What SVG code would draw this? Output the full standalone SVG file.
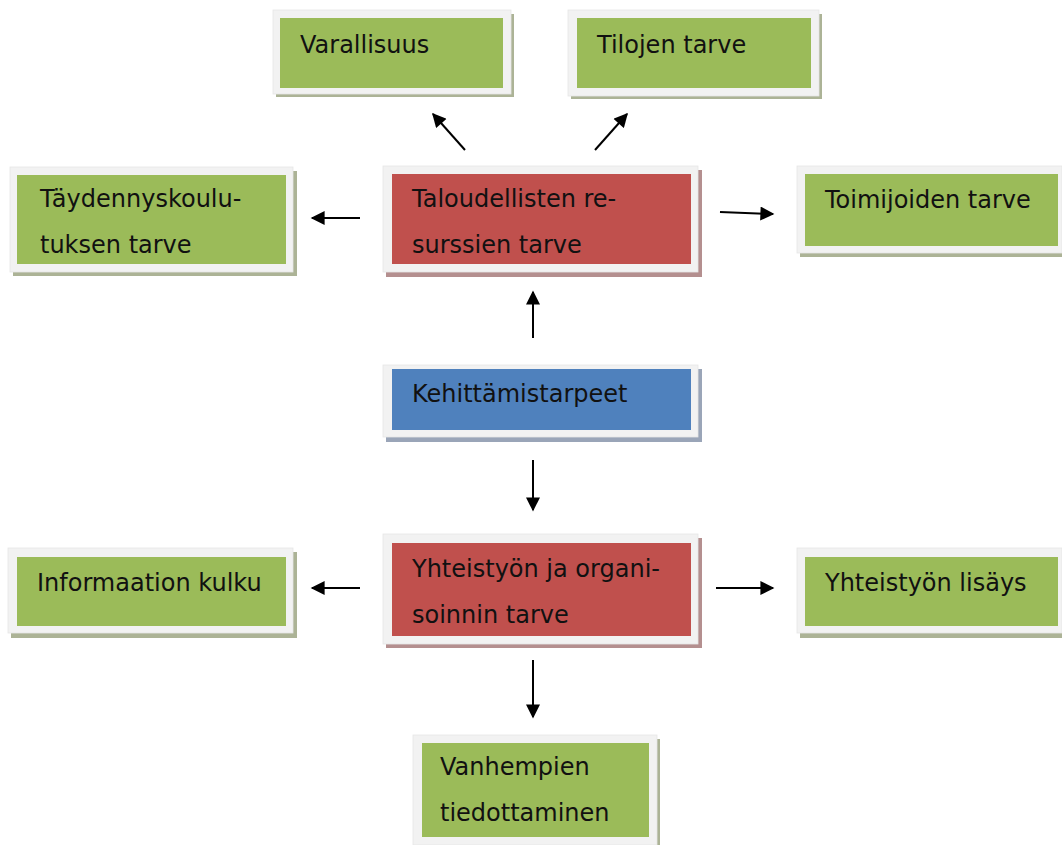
<svg xmlns="http://www.w3.org/2000/svg" width="1062" height="845" viewBox="0 0 1062 845">
<style>
.frame{fill:#f2f2f2;stroke:#e6e6e6;stroke-width:0.8}
.g{fill:#9bbb59}.r{fill:#c0504d}.b{fill:#4f81bd}
.sg{fill:#acb396}.sr{fill:#b48f8f}.sb{fill:#9aa5b8}
text{font-family:"DejaVu Sans","Liberation Sans",sans-serif;font-size:24px;fill:#111}
.c line{stroke:#000;stroke-width:2;marker-end:url(#ah)}
</style>
<defs>
<marker id="ah" viewBox="0 0 10 10" refX="9" refY="5" markerWidth="15" markerHeight="14" markerUnits="userSpaceOnUse" orient="auto"><path d="M0,0 L10,5 L0,10 z" fill="#000"/></marker>
</defs>
<rect width="1062" height="845" fill="#fff"/>
<g id="varallisuus">
<rect class="sg" x="276" y="14" width="238" height="83"/>
<rect class="frame" x="273" y="10" width="238" height="84"/>
<rect class="g" x="280" y="18" width="223" height="70"/>
<text x="300" y="53">Varallisuus</text>
</g>
<g id="tilojen">
<rect class="sg" x="571" y="14" width="251" height="85"/>
<rect class="frame" x="568" y="10" width="251" height="86"/>
<rect class="g" x="577" y="18" width="234" height="70"/>
<text x="597" y="53">Tilojen tarve</text>
</g>
<g id="taydennys">
<rect class="sg" x="13" y="171" width="284" height="105"/>
<rect class="frame" x="10" y="167" width="283" height="105"/>
<rect class="g" x="17" y="175" width="269" height="89"/>
<text x="40" y="207">Täydennyskoulu-</text>
<text x="40" y="253">tuksen tarve</text>
</g>
<g id="taloudellisten">
<rect class="sr" x="386" y="170" width="316" height="107"/>
<rect class="frame" x="383" y="166" width="315" height="106"/>
<rect class="r" x="392" y="174" width="299" height="90"/>
<text x="412" y="207">Taloudellisten re-</text>
<text x="412" y="253">surssien tarve</text>
</g>
<g id="toimijoiden">
<rect class="sg" x="800" y="170" width="262" height="87"/>
<rect class="frame" x="797" y="166" width="265" height="87"/>
<rect class="g" x="805" y="174" width="253" height="72"/>
<text x="825" y="208">Toimijoiden tarve</text>
</g>
<g id="kehittamistarpeet">
<rect class="sb" x="386" y="369" width="316" height="73"/>
<rect class="frame" x="383" y="365" width="315" height="72"/>
<rect class="b" x="392" y="369" width="299" height="61"/>
<text x="412" y="402">Kehittämistarpeet</text>
</g>
<g id="informaation">
<rect class="sg" x="11" y="552" width="286" height="86"/>
<rect class="frame" x="8" y="548" width="285" height="85"/>
<rect class="g" x="17" y="557" width="269" height="69"/>
<text x="37" y="591">Informaation kulku</text>
</g>
<g id="yhteistyon">
<rect class="sr" x="386" y="538" width="316" height="110"/>
<rect class="frame" x="383" y="534" width="315" height="110"/>
<rect class="r" x="392" y="543" width="299" height="93"/>
<text x="412" y="577">Yhteistyön ja organi-</text>
<text x="412" y="623">soinnin tarve</text>
</g>
<g id="lisays">
<rect class="sg" x="800" y="552" width="262" height="86"/>
<rect class="frame" x="797" y="548" width="265" height="85"/>
<rect class="g" x="805" y="557" width="253" height="69"/>
<text x="825" y="591">Yhteistyön lisäys</text>
</g>
<g id="vanhempien">
<rect class="sg" x="416" y="739" width="244" height="110"/>
<rect class="frame" x="413" y="735" width="244" height="110"/>
<rect class="g" x="422" y="743" width="227" height="94"/>
<text x="440" y="775">Vanhempien</text>
<text x="440" y="821">tiedottaminen</text>
</g>
<g class="c" id="connectors">
<line x1="465" y1="150" x2="433" y2="114"/>
<line x1="595" y1="150" x2="627" y2="114"/>
<line x1="360" y1="218" x2="312" y2="218"/>
<line x1="720" y1="212" x2="773" y2="214"/>
<line x1="533" y1="338" x2="533" y2="292"/>
<line x1="533" y1="460" x2="533" y2="510"/>
<line x1="360" y1="588" x2="312" y2="588"/>
<line x1="716" y1="588" x2="773" y2="588"/>
<line x1="533" y1="660" x2="533" y2="717"/>
</g>
</svg>
